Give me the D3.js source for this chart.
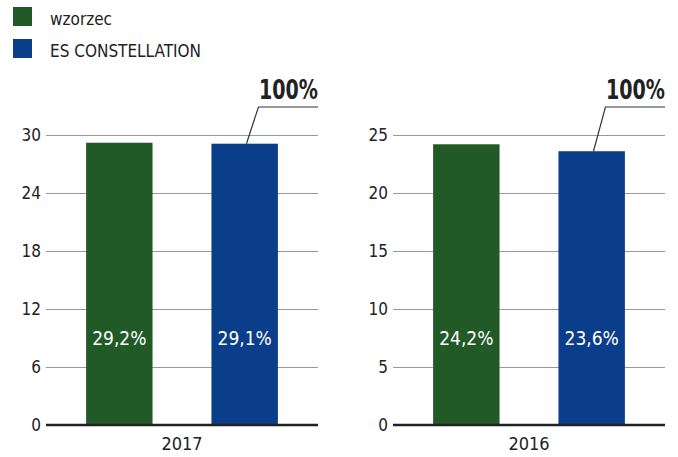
<!DOCTYPE html>
<html>
<head>
<meta charset="utf-8">
<script src="https://cdn.jsdelivr.net/npm/d3@7"></script>
<style>
  body { margin: 0; background: #fff; }
  svg text { font-family: "DejaVu Sans", sans-serif; font-stretch: condensed; fill: #222; }
  .grid line { stroke: #999; stroke-width: 1; }
  .grid .domain { display: none; }
</style>
</head>
<body>
<script>
const series = ['wzorzec', 'ES CONSTELLATION'];
const colors = ['#215a27', '#0a3d8a'];
const years = ['2017', '2016'];
const values2017 = [29.2, 29.1];
const values2016 = [24.2, 23.6];
const ticks2017 = [0, 6, 12, 18, 24, 30];
const ticks2016 = [0, 5, 10, 15, 20, 25];
const topLabel = '100%';

const width = 678;
const height = 457;

const svg = d3.select('body')
  .append('svg')
    .attr('width', width)
    .attr('height', height);

// legend
const legend = svg.append('g');
series.forEach((s, i) => {
  legend.append('rect')
    .attr('x', 13)
    .attr('y', 7 + i * 32)
    .attr('width', 19)
    .attr('height', 19)
    .attr('fill', colors[i]);
  legend.append('text')
    .attr('x', 50)
    .attr('y', 25 + i * 32)
    .attr('font-size', 17)
    .text(s);
});

const fmt = v => v.toFixed(1).replace('.', ',') + '%';

const drawPanel = (x0, x1, year, values, ticks) => {
  const g = svg.append('g');

  const xScale = d3.scaleBand()
    .domain(series)
    .range([x0, x1])
    .paddingInner(0.47)
    .paddingOuter(0.32);

  const yScale = d3.scaleLinear()
    .domain([0, d3.max(ticks)])
    .range([425, 135]);

  // gridlines + tick labels
  const axis = g.append('g')
    .attr('class', 'grid')
    .attr('transform', `translate(${x0},0)`)
    .call(d3.axisLeft(yScale)
      .tickValues(ticks)
      .tickSize(-(x1 - x0))
      .tickPadding(5));
  axis.selectAll('text')
    .attr('font-size', 17)
    .attr('fill', '#222');
  axis.selectAll('.tick')
    .filter(d => d === d3.max(ticks))
    .select('line')
    .attr('stroke', '#333');

  const data = series.map((s, i) => ({ s, v: values[i], c: colors[i] }));

  g.selectAll('rect')
    .data(data)
    .enter()
    .append('rect')
      .attr('x', d => xScale(d.s))
      .attr('y', d => yScale(d.v))
      .attr('width', xScale.bandwidth())
      .attr('height', d => yScale(0) - yScale(d.v))
      .attr('fill', d => d.c);

  // baseline over bars
  g.append('line')
    .attr('x1', x0)
    .attr('x2', x1)
    .attr('y1', yScale(0))
    .attr('y2', yScale(0))
    .attr('stroke', '#222')
    .attr('stroke-width', 2.5);

  g.selectAll('.val')
    .data(data)
    .enter()
    .append('text')
      .attr('class', 'val')
      .attr('x', d => xScale(d.s) + xScale.bandwidth() / 2)
      .attr('y', 345)
      .attr('text-anchor', 'middle')
      .attr('font-size', 19)
      .style('fill', '#fff')
      .text(d => fmt(d.v));

  // year label
  g.append('text')
    .attr('x', (x0 + x1) / 2)
    .attr('y', 450)
    .attr('text-anchor', 'middle')
    .attr('font-size', 18)
    .text(year);

  // leader line to 100%
  const last = data[data.length - 1];
  const bx = xScale(last.s);
  g.append('path')
    .attr('d', `M${bx + 35},${yScale(last.v)} L${bx + 47},107 L${x1},107`)
    .attr('fill', 'none')
    .attr('stroke', '#333')
    .attr('stroke-width', 1.2);

  g.append('text')
    .attr('x', x1)
    .attr('y', 99)
    .attr('text-anchor', 'end')
    .attr('font-size', 27)
    .attr('font-weight', 'bold')
    .attr('textLength', 59)
    .attr('lengthAdjust', 'spacingAndGlyphs')
    .text(topLabel);
};

drawPanel(46, 318, years[0], values2017, ticks2017);
drawPanel(393, 665, years[1], values2016, ticks2016);
</script>
</body>
</html>
